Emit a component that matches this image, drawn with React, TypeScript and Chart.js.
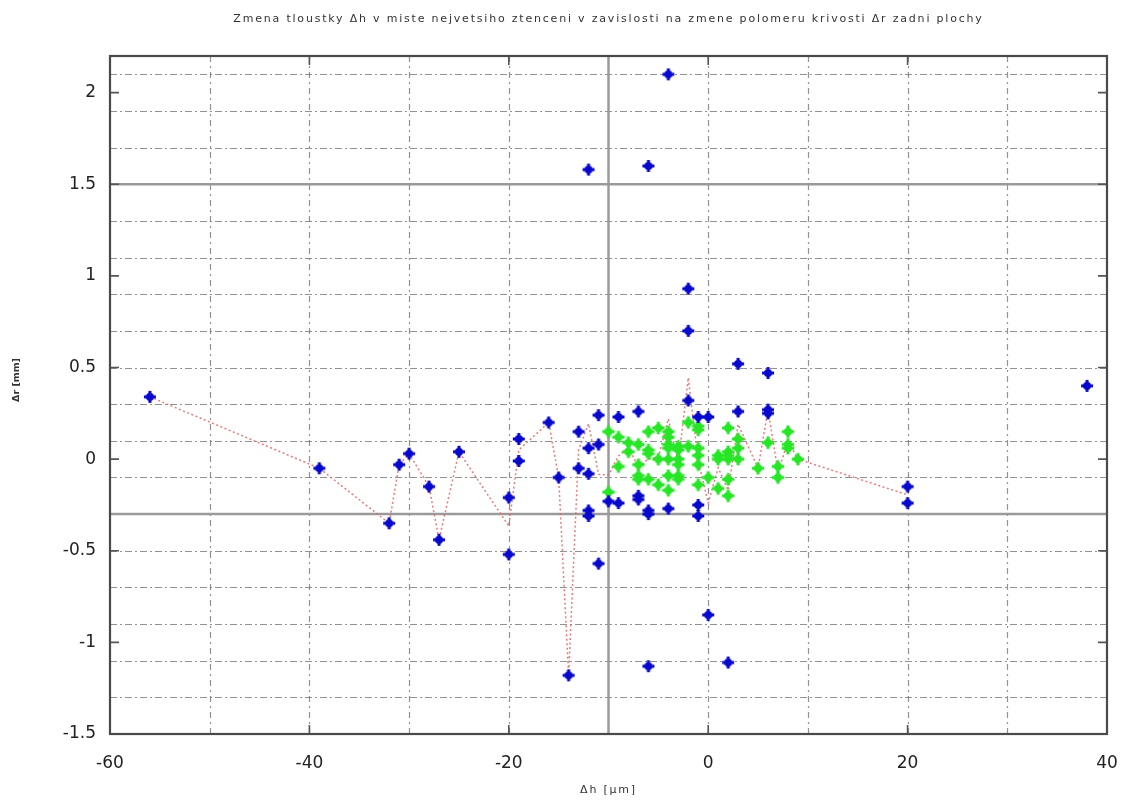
import React, { useEffect, useRef } from "react";
import { Chart, registerables } from "chart.js";

Chart.register(...registerables);

const TITLE =
  "Zmena tloustky \u0394h v miste nejvetsiho ztenceni v zavislosti na zmene polomeru krivosti \u0394r zadni plochy";
const X_TITLE = "\u0394h [\u03bcm]";
const Y_TITLE = "\u0394r [mm]";

// blue series
const blueX = [-56, -39, -32, -31, -30, -28, -27, -25, -20, -20, -19, -19, -16, -15, -14, -13, -13, -12, -12, -12, -12, -12, -11, -11, -11, -10, -9, -9, -7, -7, -7, -6, -6, -6, -6, -4, -4, -2, -2, -2, -1, -1, -1, 0, 0, 2, 3, 3, 6, 6, 6, 20, 20, 38];
const blueY = [0.34, -0.05, -0.35, -0.03, 0.03, -0.15, -0.44, 0.04, -0.21, -0.52, 0.11, -0.01, 0.2, -0.1, -1.18, 0.15, -0.05, 1.58, 0.06, -0.08, -0.28, -0.31, 0.24, 0.08, -0.57, -0.23, 0.23, -0.24, 0.26, -0.2, -0.22, 1.6, -0.28, -0.3, -1.13, 2.1, -0.27, 0.93, 0.7, 0.32, 0.23, -0.25, -0.31, 0.23, -0.85, -1.11, 0.52, 0.26, 0.47, 0.27, 0.25, -0.15, -0.24, 0.4];

// green series
const greenX = [-10, -10, -9, -9, -8, -8, -7, -7, -7, -7, -6, -6, -6, -6, -5, -5, -5, -4, -4, -4, -4, -4, -4, -4, -3, -3, -3, -3, -3, -3, -2, -2, -1, -1, -1, -1, -1, -1, 0, 1, 1, 1, 2, 2, 2, 2, 2, 2, 3, 3, 3, 5, 6, 7, 7, 8, 8, 8, 9];
const greenY = [0.15, -0.18, 0.12, -0.04, 0.09, 0.04, 0.08, -0.03, -0.09, -0.11, 0.15, 0.05, 0.03, -0.11, 0.17, 0.0, -0.14, 0.15, 0.12, 0.08, 0.06, 0.0, -0.09, -0.17, 0.07, 0.05, 0.0, -0.03, -0.09, -0.11, 0.2, 0.07, 0.18, 0.16, 0.06, 0.02, -0.03, -0.14, -0.1, 0.02, 0.0, -0.16, 0.17, 0.04, 0.02, 0.0, -0.11, -0.2, 0.11, 0.06, 0.0, -0.05, 0.09, -0.04, -0.1, 0.15, 0.08, 0.06, 0.0];

// mean line covers x values up to this one
const meanLineMaxX = 20;

// axes
const xMin = -60;
const xMax = 40;
const yMin = -1.5;
const yMax = 2.2;
const xTickValues = [-60, -40, -20, 0, 20, 40];
const yTickValues = [-1.5, -1, -0.5, 0, 0.5, 1, 1.5, 2];
const xGridValues = [-50, -40, -30, -20, 0, 10, 20, 30];
const xSolidValues = [-10];
const yGridValues = [2.1, 1.9, 1.7, 1.3, 1.1, 0.9, 0.7, 0.5, 0.3, 0.1, -0.1, -0.5, -0.7, -0.9, -1.1, -1.3];
const ySolidValues = [1.5, -0.3];

function meanByX(xs: number[][], ys: number[][], maxX: number) {
  const sums = new Map<number, { s: number; n: number }>();
  xs.forEach((arr, k) => {
    arr.forEach((x, i) => {
      if (x > maxX) return;
      const e = sums.get(x) || { s: 0, n: 0 };
      e.s += ys[k][i];
      e.n += 1;
      sums.set(x, e);
    });
  });
  return Array.from(sums.entries())
    .sort((a, b) => a[0] - b[0])
    .map(([x, e]) => ({ x, y: e.s / e.n }));
}

function makeMarker(color: string, r: number, arm: number, lw: number) {
  const size = 16;
  const c = document.createElement("canvas");
  c.width = size;
  c.height = size;
  const ctx = c.getContext("2d")!;
  const m = size / 2;
  ctx.fillStyle = color;
  ctx.beginPath();
  ctx.arc(m, m, r, 0, Math.PI * 2);
  ctx.fill();
  ctx.strokeStyle = color;
  ctx.lineWidth = lw;
  ctx.lineCap = "butt";
  ctx.beginPath();
  ctx.moveTo(m - arm, m);
  ctx.lineTo(m + arm, m);
  ctx.moveTo(m, m - arm);
  ctx.lineTo(m, m + arm);
  ctx.stroke();
  return c;
}

const FONT = "'DejaVu Sans', 'Liberation Sans', sans-serif";

const framePlugin = {
  id: "gnuplotFrame",
  beforeDatasetsDraw(chart: any) {
    const { ctx, chartArea: a, scales } = chart;
    const xs = scales.x;
    const ys = scales.y;
    ctx.save();
    ctx.beginPath();
    ctx.rect(a.left, a.top, a.right - a.left, a.bottom - a.top);
    ctx.clip();
    // dashed grid
    ctx.strokeStyle = "rgba(110,110,110,0.75)";
    ctx.lineWidth = 1.2;
    ctx.setLineDash([7, 3, 2, 3]);
    yGridValues.forEach((v) => {
      const p = Math.round(ys.getPixelForValue(v)) + 0.5;
      ctx.beginPath();
      ctx.moveTo(a.left, p);
      ctx.lineTo(a.right, p);
      ctx.stroke();
    });
    ctx.setLineDash([6, 4, 2, 4]);
    xGridValues.forEach((v) => {
      const p = Math.round(xs.getPixelForValue(v)) + 0.5;
      ctx.beginPath();
      ctx.moveTo(p, a.top);
      ctx.lineTo(p, a.bottom);
      ctx.stroke();
    });
    // solid lines
    ctx.setLineDash([]);
    ctx.strokeStyle = "#9a9a9a";
    ctx.lineWidth = 2.5;
    ySolidValues.forEach((v) => {
      const p = ys.getPixelForValue(v);
      ctx.beginPath();
      ctx.moveTo(a.left, p);
      ctx.lineTo(a.right, p);
      ctx.stroke();
    });
    xSolidValues.forEach((v) => {
      const p = xs.getPixelForValue(v);
      ctx.beginPath();
      ctx.moveTo(p, a.top);
      ctx.lineTo(p, a.bottom);
      ctx.stroke();
    });
    ctx.restore();
  },
  afterDatasetsDraw(chart: any) {
    const { ctx, chartArea: a, scales } = chart;
    const xs = scales.x;
    const ys = scales.y;
    ctx.save();
    ctx.strokeStyle = "#555";
    ctx.lineWidth = 1.6;
    // tick marks (inward, mirrored)
    const tl = 9;
    yTickValues.forEach((v) => {
      const p = ys.getPixelForValue(v);
      ctx.beginPath();
      ctx.moveTo(a.left, p);
      ctx.lineTo(a.left + tl, p);
      ctx.moveTo(a.right, p);
      ctx.lineTo(a.right - tl, p);
      ctx.stroke();
    });
    xTickValues.forEach((v) => {
      const p = xs.getPixelForValue(v);
      ctx.beginPath();
      ctx.moveTo(p, a.bottom);
      ctx.lineTo(p, a.bottom - tl);
      ctx.moveTo(p, a.top);
      ctx.lineTo(p, a.top + tl);
      ctx.stroke();
    });
    // border
    ctx.strokeStyle = "#4a4a4a";
    ctx.lineWidth = 2.2;
    ctx.strokeRect(a.left, a.top, a.right - a.left, a.bottom - a.top);

    // texts: title and axis titles (wide, gnuplot-like)
    const cx = (a.left + a.right) / 2;
    ctx.fillStyle = "#333";
    ctx.textAlign = "center";
    ctx.textBaseline = "middle";
    ctx.font = `11px ${FONT}`;
    (ctx as any).letterSpacing = "1.8px";
    ctx.fillText(TITLE, cx, 19);
    ctx.font = `11px ${FONT}`;
    (ctx as any).letterSpacing = "1.8px";
    ctx.fillText(X_TITLE, cx, 790);
    (ctx as any).letterSpacing = "0px";
    ctx.translate(17, 380);
    ctx.rotate(-Math.PI / 2);
    ctx.font = `bold 9.5px ${FONT}`;
    ctx.fillText(Y_TITLE, 0, 0);
    ctx.restore();
  },
};

export default function App() {
  const ref = useRef<HTMLCanvasElement | null>(null);

  useEffect(() => {
    if (!ref.current) return;
    const blueMarker = makeMarker("#0808cc", 4, 6, 3);
    const greenMarker = makeMarker("#26e626", 4.2, 6.2, 3);
    const bluePts = blueX.map((x, i) => ({ x, y: blueY[i] }));
    const greenPts = greenX.map((x, i) => ({ x, y: greenY[i] }));
    const meanPts = meanByX([blueX, greenX], [blueY, greenY], meanLineMaxX);

    const chart = new Chart(ref.current, {
      type: "scatter",
      data: {
        datasets: [
          {
            type: "line",
            label: "mean",
            data: meanPts,
            borderColor: "rgba(228,100,100,0.85)",
            borderWidth: 1.5,
            borderDash: [2, 2.5],
            pointRadius: 0,
            fill: false,
            tension: 0,
            order: 3,
          } as any,
          {
            label: "blue",
            data: bluePts,
            pointStyle: blueMarker as any,
            pointRadius: 6,
            order: 1,
          },
          {
            label: "green",
            data: greenPts,
            pointStyle: greenMarker as any,
            pointRadius: 6,
            order: 2,
          },
        ],
      },
      options: {
        animation: false,
        responsive: false,
        maintainAspectRatio: false,
        layout: { padding: { top: 56, right: 15, bottom: 0, left: 0 } },
        plugins: {
          legend: { display: false },
          tooltip: { enabled: false },
          title: { display: false },
        },
        scales: {
          x: {
            type: "linear",
            min: xMin,
            max: xMax,
            afterBuildTicks: (s: any) => {
              s.ticks = xTickValues.map((v) => ({ value: v }));
            },
            afterFit: (s: any) => {
              s.height = 68;
              s.paddingLeft = 0;
              s.paddingRight = 0;
            },
            grid: { display: false, drawTicks: false },
            border: { display: false },
            ticks: {
              font: { family: FONT, size: 17 },
              color: "#222",
              padding: 19,
              maxRotation: 0,
              autoSkip: false,
              callback: (v: any) => String(v),
            },
            title: { display: false },
          },
          y: {
            type: "linear",
            min: yMin,
            max: yMax,
            afterBuildTicks: (s: any) => {
              s.ticks = yTickValues.map((v) => ({ value: v }));
            },
            afterFit: (s: any) => {
              s.width = 110;
              s.paddingTop = 0;
              s.paddingBottom = 0;
            },
            grid: { display: false, drawTicks: false },
            border: { display: false },
            ticks: {
              font: { family: FONT, size: 17 },
              color: "#222",
              padding: 14,
              autoSkip: false,
              callback: (v: any) => String(v),
            },
            title: { display: false },
          },
        },
      },
      plugins: [framePlugin],
    });
    return () => chart.destroy();
  }, []);

  return (
    <div style={{ position: "absolute", left: 0, top: 0, width: 1122, height: 802, background: "#fff" }}>
      <canvas ref={ref} width={1122} height={802} style={{ display: "block" }} />
    </div>
  );
}
